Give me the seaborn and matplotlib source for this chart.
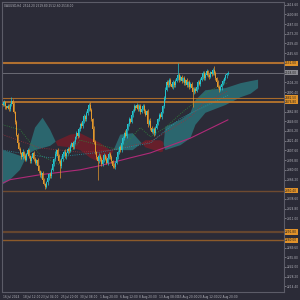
import numpy as np
import pandas as pd
import seaborn as sns
import matplotlib.pyplot as plt
import matplotlib.transforms as mtransforms

# XAUUSD H4 candles (close prices, wick sizes above / below the body)
first_open = 2474
closes = [2472, 2476, 2470, 2468, 2471, 2466, 2473, 2478, 2474, 2462,
          2448, 2430, 2418, 2410, 2404, 2398, 2405, 2400, 2394, 2402,
          2408, 2399, 2392, 2397, 2404, 2396, 2390, 2394, 2385, 2378,
          2372, 2376, 2366, 2360, 2356, 2362, 2368, 2374, 2371, 2380,
          2388, 2395, 2403, 2408, 2400, 2392, 2385, 2396, 2402, 2406,
          2399, 2404, 2410, 2407, 2414, 2418, 2412, 2420, 2426, 2432,
          2428, 2438, 2445, 2442, 2450, 2456, 2452, 2460, 2466, 2472,
          2465, 2452, 2438, 2420, 2405, 2398, 2392, 2400, 2395, 2388,
          2394, 2401, 2396, 2390, 2397, 2403, 2398, 2392, 2386, 2384,
          2390, 2398, 2405, 2412, 2408, 2418, 2425, 2432, 2428, 2438,
          2445, 2452, 2448, 2458, 2464, 2470, 2468, 2472, 2466, 2470,
          2462, 2467, 2471, 2464, 2458, 2463, 2445, 2450, 2440, 2434,
          2438, 2432, 2440, 2445, 2452, 2458, 2455, 2462, 2470, 2482,
          2494, 2505, 2500, 2508, 2502, 2498, 2504, 2500, 2506, 2510,
          2514, 2508, 2512, 2506, 2510, 2503, 2507, 2500, 2504, 2498,
          2502, 2496, 2490, 2495, 2492, 2498, 2505, 2502, 2508, 2512,
          2518, 2510, 2515, 2520, 2514, 2512, 2519, 2516, 2522, 2518,
          2510, 2504, 2498, 2494, 2497, 2502, 2506, 2510, 2514, 2516,
          2518]
up_wick = [2, 3, 2, 1, 3, 2, 2, 5, 2, 3,
           2, 3, 2, 2, 3, 2, 4, 2, 3, 2,
           3, 2, 2, 3, 2, 3, 2, 2, 3, 2,
           2, 3, 2, 2, 1, 2, 3, 2, 3, 2,
           3, 2, 4, 2, 3, 2, 3, 2, 4, 2,
           3, 2, 3, 2, 3, 2, 3, 2, 2, 3,
           2, 3, 2, 3, 2, 3, 2, 3, 2, 3,
           5, 3, 2, 4, 3, 2, 3, 4, 2, 3,
           2, 3, 2, 3, 2, 3, 2, 3, 2, 3,
           3, 2, 3, 2, 3, 2, 3, 2, 4, 2,
           2, 3, 2, 3, 2, 3, 2, 3, 2, 3,
           3, 2, 3, 2, 3, 2, 3, 2, 3, 2,
           2, 3, 2, 3, 2, 3, 2, 3, 2, 3,
           3, 2, 3, 2, 3, 2, 3, 2, 3, 4,
           17, 3, 2, 3, 2, 3, 2, 3, 2, 3,
           2, 3, 2, 3, 2, 3, 2, 3, 2, 3,
           2, 3, 2, 3, 2, 3, 2, 3, 3, 5,
           3, 2, 3, 2, 3, 2, 3, 2, 2, 2,
           2]
low_wick = [2, 2, 3, 2, 2, 3, 2, 2, 3, 2,
            3, 2, 3, 2, 2, 3, 2, 3, 2, 2,
            3, 2, 3, 2, 2, 3, 2, 3, 2, 3,
            2, 3, 2, 2, 3, 2, 3, 2, 2, 3,
            2, 3, 2, 3, 2, 3, 17, 2, 3, 2,
            2, 3, 2, 3, 2, 2, 3, 2, 3, 2,
            3, 2, 3, 2, 2, 3, 2, 3, 2, 2,
            2, 3, 2, 3, 3, 2, 27, 3, 2, 3,
            2, 3, 2, 2, 3, 2, 3, 2, 3, 2,
            3, 2, 3, 2, 2, 3, 2, 3, 2, 3,
            2, 3, 2, 2, 3, 2, 3, 2, 3, 2,
            3, 2, 2, 3, 2, 3, 4, 2, 3, 2,
            3, 4, 3, 2, 2, 3, 2, 3, 2, 2,
            3, 2, 3, 2, 3, 2, 3, 2, 3, 2,
            2, 3, 2, 3, 2, 3, 2, 3, 2, 3,
            2, 3, 21, 2, 3, 2, 3, 2, 3, 2,
            3, 2, 3, 2, 2, 3, 2, 3, 2, 3,
            2, 3, 2, 3, 2, 3, 2, 3, 2, 3,
            2]

# Ichimoku cloud (read at a few bars, shifted 26 bars ahead)
cloud_idx = [0, 6, 14, 20, 26, 32, 38, 44, 54, 62, 70, 78, 86, 94, 104, 114,
             126, 128, 130, 142, 150, 154, 162, 178, 190, 198, 204]
span_a = [2408, 2405, 2400, 2404, 2440, 2454, 2437, 2414, 2412, 2408, 2397, 2390,
          2397, 2430, 2432, 2412, 2405, 2406, 2441, 2451, 2461, 2479, 2493, 2496,
          2503, 2506, 2508]
span_b = [2359, 2366, 2380, 2402, 2408, 2411, 2414, 2422, 2430, 2432, 2425, 2418,
          2408, 2408, 2408, 2422, 2422, 2420, 2408, 2415, 2425, 2444, 2461, 2472,
          2483, 2488, 2496]

# moving averages
ma_fast_idx = [0, 14, 30, 46, 62, 78, 94, 110, 118, 130, 143, 165, 180]
ma_fast = [2444, 2437, 2401, 2387, 2422, 2415, 2408, 2440, 2427, 2440, 2461, 2492, 2504]
ma_mid_idx = [0, 30, 62, 86, 118, 150, 160, 180]
ma_mid = [2430, 2411, 2405, 2408, 2420, 2455, 2474, 2492]
ma_slow_idx = [0, 38, 78, 118, 142, 180]
ma_slow = [2408, 2397, 2405, 2418, 2453, 2486]
ma_long_idx = [0, 6, 30, 62, 78, 102, 118, 150, 180]
ma_long = [2361, 2366, 2373, 2380, 2386, 2397, 2404, 2425, 2451]

# horizontal levels
levels = [2531.0, 2482.5, 2476.8, 2350.4, 2291.8, 2280.0]
level_colors = ["#b07030", "#a86a2a", "#b8762c", "#6e4a30", "#65462f", "#8c5a2a"]
level_widths = [1.5, 0.8, 1.3, 1.0, 1.6, 1.0]

date_idx = [0, 16, 31, 47, 62, 78, 94, 109, 125, 140, 156, 172]
date_labels = ["16 Jul 2024", "18 Jul 12:00", "23 Jul 04:00", "25 Jul 20:00",
               "30 Jul 08:00", "1 Aug 20:00", "6 Aug 12:00", "8 Aug 20:00",
               "13 Aug 08:00", "15 Aug 20:00", "20 Aug 12:00", "22 Aug 20:00"]
header = "XAUUSD,H4  2514.20 2519.80 2512.60 2518.00"

bg = "#2b2b37"
fg = "#b4b4bc"
bull_col = "#22c3cd"
bear_col = "#e3982c"
fs = 2.1

sns.set_style("dark", {"axes.facecolor": bg, "figure.facecolor": bg})
plt.rcParams['font.family'] = ['DejaVu Sans']

fig = plt.figure(figsize=(3, 3), dpi=100)
ax = fig.add_axes([2 / 300, 8 / 300, 282 / 300, 290 / 300])

df = pd.DataFrame({"close": closes, "up": up_wick, "lo": low_wick})
df["open"] = [first_open] + closes[:-1]
df["top"] = df[["open", "close"]].max(axis=1)
df["bot"] = df[["open", "close"]].min(axis=1)
df["high"] = df["top"] + df["up"]
df["low"] = df["bot"] - df["lo"]
x = np.arange(len(df))
cols = np.where(df["close"] >= df["open"], bull_col, bear_col)

# cloud
ca = np.array(span_a, float)
cb = np.array(span_b, float)
ax.fill_between(cloud_idx, ca, cb, where=ca >= cb, interpolate=True,
                color="#2c757c", alpha=0.8, lw=0, zorder=1)
ax.fill_between(cloud_idx, ca, cb, where=ca < cb, interpolate=True,
                color="#6b1f2b", alpha=0.95, lw=0, zorder=1)

# moving averages
sns.lineplot(x=ma_fast_idx, y=ma_fast, ax=ax, color="#2f8a3a", lw=0.6, ls=":", zorder=2)
sns.lineplot(x=ma_mid_idx, y=ma_mid, ax=ax, color="#a0303a", lw=0.6, ls=":", zorder=2)
sns.lineplot(x=ma_slow_idx, y=ma_slow, ax=ax, color="#2a9aa8", lw=0.6, ls=":", zorder=2)
sns.lineplot(x=ma_long_idx, y=ma_long, ax=ax, color="#b02a78", lw=0.8, zorder=2)

# levels
for lv, c, w in zip(levels, level_colors, level_widths):
    ax.axhline(lv, color=c, lw=w, zorder=2)
ax.axhline(closes[-1], color="#6a6a74", lw=0.7, zorder=2)

# candles
ax.vlines(x, df["low"], df["high"], colors=cols, lw=0.5, zorder=3)
ax.bar(x, (df["top"] - df["bot"]).clip(lower=0.8), bottom=df["bot"], width=0.8,
       color=cols, linewidth=0, zorder=3)

ax.set_xlim(-0.4, 224.7)
ax.set_ylim(2206.5, 2618.3)
ax.grid(False)

# price scale on the right (skip ticks hidden behind the level tags)
tags = levels + [closes[-1]]
ticks = [t for t in 2614.6 - 13.8 * np.arange(30)
         if min(abs(t - g) for g in tags) > 7]
ax.yaxis.tick_right()
ax.set_yticks(ticks)
ax.set_yticklabels([f"{t:.2f}" for t in ticks])
ax.tick_params(axis="y", labelsize=fs, colors=fg, length=1.5, width=0.4, pad=0.8)
ax.set_xticks(date_idx)
ax.set_xticklabels(date_labels, ha="left")
ax.tick_params(axis="x", labelsize=fs, colors=fg, length=1.5, width=0.4, pad=0.8)
for s in ax.spines.values():
    s.set_color("#5c5c68")
    s.set_linewidth(0.8)
    s.set_visible(True)

trans = mtransforms.blended_transform_factory(ax.transAxes, ax.transData)
for lv in levels:
    ax.text(1.004, lv, f"{lv:.2f}", transform=trans, fontsize=fs, color="#1c1c1c",
            va="center", ha="left", clip_on=False, zorder=5,
            bbox=dict(boxstyle="square,pad=0.2", fc="#e0922a", ec="none"))
ax.text(1.004, closes[-1], f"{closes[-1]:.2f}", transform=trans, fontsize=fs,
        color="#1c1c1c", va="center", ha="left", clip_on=False, zorder=5,
        bbox=dict(boxstyle="square,pad=0.2", fc="#8a8a92", ec="none"))

ax.text(0.006, 0.993, header, transform=ax.transAxes, fontsize=fs, color=fg,
        va="top", ha="left")

plt.savefig("out.png", dpi=100, facecolor=bg)
